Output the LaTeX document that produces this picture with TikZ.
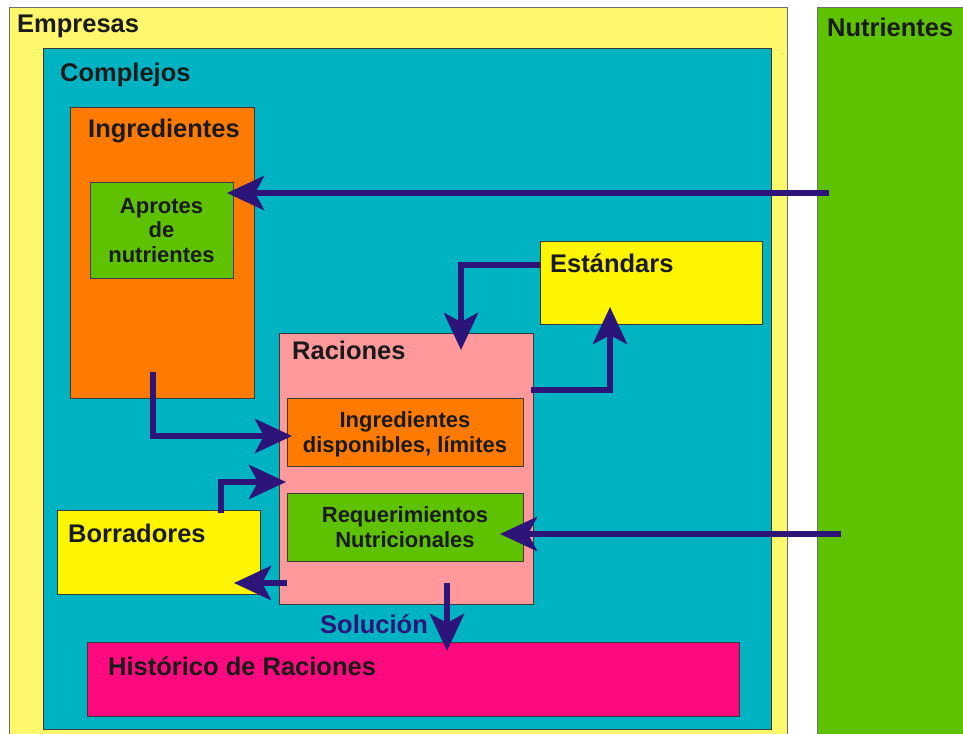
\documentclass[tikz,border=0pt]{standalone}
\usepackage{fontspec}
\setmainfont{Liberation Sans}
\usetikzlibrary{arrows.meta}
\definecolor{paleyellow}{HTML}{FFF76C}
\definecolor{leafgreen}{HTML}{5EC200}
\definecolor{teal}{HTML}{00B3C3}
\definecolor{orangebox}{HTML}{FF7B00}
\definecolor{brightyellow}{HTML}{FFF500}
\definecolor{pinkbox}{HTML}{FF999C}
\definecolor{magentabox}{HTML}{FF0A7E}
\definecolor{flowc}{HTML}{2C1478}
\definecolor{ink}{HTML}{1A1A1A}
\definecolor{boxline}{HTML}{3A3A3A}
\definecolor{outerline}{HTML}{6E6E6E}
\begin{document}
\begin{tikzpicture}[x=1pt,y=-1pt,
  box/.style={draw=boxline, line width=1pt, inner sep=0pt, anchor=north west},
  outer/.style={draw=outerline, line width=1.2pt, inner sep=0pt, anchor=north west},
  head/.style={anchor=base west, inner sep=0pt, font=\fontsize{25.5}{30}\selectfont\bfseries, text=ink},
  body/.style={anchor=base, inner sep=0pt, font=\fontsize{22}{26}\selectfont\bfseries, text=ink},
  flow/.style={draw=flowc, line width=6.5pt, line join=miter,
    -{Stealth[length=37pt,width=34pt,inset=9pt]}}]
\useasboundingbox (0,0) rectangle (963,733);
\fill[white] (0,0) rectangle (963,733);
\clip (0,0) rectangle (963,733);

% outer containers
\node[outer, fill=paleyellow, minimum width=778pt, minimum height=760pt] (empresas) at (9,7) {};
\node[outer, fill=leafgreen, minimum width=180pt, minimum height=760pt] (nutrientes) at (817,7) {};
\node[box, fill=teal, minimum width=728pt, minimum height=681pt] (complejos) at (43,48) {};

% inner boxes
\node[box, fill=orangebox, minimum width=184pt, minimum height=291pt] (ingredientes) at (70,107) {};
\node[box, fill=leafgreen, minimum width=143pt, minimum height=96pt] (aportes) at (90,182) {};
\node[box, fill=brightyellow, minimum width=222pt, minimum height=83pt] (estandars) at (540,241) {};
\node[box, fill=pinkbox, minimum width=254pt, minimum height=271pt] (raciones) at (279,333) {};
\node[box, fill=orangebox, minimum width=236pt, minimum height=68pt] (disponibles) at (287,398) {};
\node[box, fill=leafgreen, minimum width=236pt, minimum height=68pt] (requerimientos) at (287,493) {};
\node[box, fill=brightyellow, minimum width=203pt, minimum height=84pt] (borradores) at (57,510) {};
\node[box, fill=magentabox, minimum width=652pt, minimum height=74pt] (historico) at (87,642) {};

% titles
\node[head] (tEmpresas) at (17,33) {Empresas};
\node[head] (tNutrientes) at (827,37) {Nutrientes};
\node[head] (tComplejos) at (60,82) {Complejos};
\node[head] (tIngredientes) at (88,137) {Ingredientes};
\node[head] (tEstandars) at (550,272) {Estándars};
\node[head] (tRaciones) at (292,359) {Raciones};
\node[head] (tBorradores) at (68,542) {Borradores};
\node[head] (tHistorico) at (108,675) {Histórico de Raciones};
\node[head, text=flowc] (tSolucion) at (320,633) {Solución};

% box contents
\node[body] (aportes1) at (161.5,213) {Aprotes};
\node[body] (aportes2) at (161.5,237.5) {de};
\node[body] (aportes3) at (161.5,262) {nutrientes};
\node[body] (disp1) at (405,427) {Ingredientes};
\node[body] (disp2) at (405,452) {disponibles, límites};
\node[body] (req1) at (405,522) {Requerimientos};
\node[body] (req2) at (405,547) {Nutricionales};

% connector end points
\coordinate (nutA) at (829,193);
\coordinate (aportesIn) at (227,193);
\coordinate (estOut) at (540,265);
\coordinate (racTopIn) at (461,350);
\coordinate (racRightOut) at (531,390);
\coordinate (estBottomIn) at (610,307);
\coordinate (ingOut) at (153,372);
\coordinate (dispIn) at (292,436);
\coordinate (borOut) at (221,513);
\coordinate (racLeftIn) at (286,482);
\coordinate (racLeftOut) at (287,583);
\coordinate (borIn) at (234,583);
\coordinate (nutB) at (841,534);
\coordinate (reqIn) at (500,534);
\coordinate (racBottomOut) at (447,583);
\coordinate (histIn) at (447,651);

% connectors
\draw[flow] (nutA) -- (aportesIn);
\draw[flow] (estOut) -| (racTopIn);
\draw[flow] (racRightOut) -| (estBottomIn);
\draw[flow] (ingOut) |- (dispIn);
\draw[flow] (borOut) |- (racLeftIn);
\draw[flow] (racLeftOut) -- (borIn);
\draw[flow] (nutB) -- (reqIn);
\draw[flow] (racBottomOut) -- (histIn);
\end{tikzpicture}
\end{document}
